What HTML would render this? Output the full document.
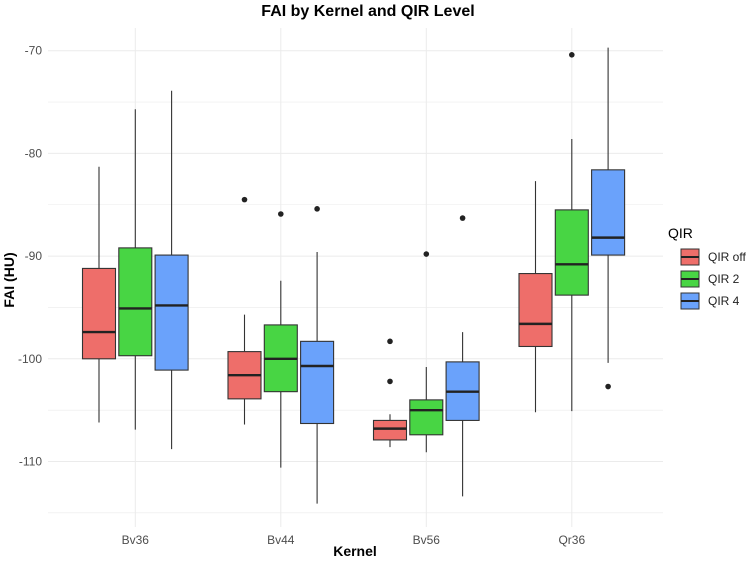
<!DOCTYPE html>
<html><head><meta charset="utf-8"><style>
body{margin:0;background:#fff;font-family:"Liberation Sans",Arial,sans-serif}
svg text{font-family:"Liberation Sans",Arial,sans-serif}
</style></head><body>
<svg id="chart" width="750" height="561" xmlns="http://www.w3.org/2000/svg">
<text x="368" y="16" text-anchor="middle" font-size="16" font-weight="bold">FAI by Kernel and QIR Level</text>
<g id="grid"></g><g id="boxes"></g><g id="axes"></g>
<text transform="translate(14,280) rotate(-90)" text-anchor="middle" font-size="14" font-weight="bold">FAI (HU)</text>
<text x="355" y="556" text-anchor="middle" font-size="14" font-weight="bold">Kernel</text>
<g id="legend">
<text x="668" y="238" font-size="14">QIR</text>
</g>
</svg>
<script>
const categories=["Bv36","Bv44","Bv56","Qr36"];
const groups=["QIR off","QIR 2","QIR 4"];
const colors=["#ee6e6a","#48d544","#6aa2fb"];
// [low, q1, median, q3, high] per category per group
const statsOff=[[-106.2,-100.0,-97.4,-91.2,-81.3],[-106.4,-103.9,-101.6,-99.3,-95.7],[-108.6,-107.9,-106.8,-106.0,-105.4],[-105.2,-98.8,-96.6,-91.7,-82.7]];
const stats2=[[-106.9,-99.7,-95.1,-89.2,-75.7],[-110.6,-103.2,-100.0,-96.7,-92.4],[-109.1,-107.4,-105.0,-104.0,-100.8],[-105.1,-93.8,-90.8,-85.5,-78.6]];
const stats4=[[-108.8,-101.1,-94.8,-89.9,-73.9],[-114.1,-106.3,-100.7,-98.3,-89.6],[-113.4,-106.0,-103.2,-100.3,-97.4],[-100.4,-89.9,-88.2,-81.6,-69.7]];
const outOff=[[],[-84.5],[-98.3,-102.2],[]];
const out2=[[],[-85.9],[-89.8],[-70.4]];
const out4=[[],[-85.4],[-86.3],[-102.7]];
const yTicks=[-70,-80,-90,-100,-110];
const NS="http://www.w3.org/2000/svg";
const y=v=>50.7+(-70-v)*10.27;
const x=i=>135.3+i*145.5;
function mk(t,a,p){const e=document.createElementNS(NS,t);for(const k in a)e.setAttribute(k,a[k]);p.appendChild(e);return e;}
const grid=document.getElementById('grid'),boxes=document.getElementById('boxes'),axes=document.getElementById('axes');
for(let v=-70;v>=-115;v-=5){const l=mk('line',{x1:48,x2:663,y1:y(v),y2:y(v),stroke:'#ebebeb','stroke-width':v%10===0?1:0.6},grid);

}
categories.forEach((c,i)=>{const l=mk('line',{x1:x(i),x2:x(i),y1:28,y2:527,stroke:'#ebebeb'},grid);


const t=mk('text',{x:x(i),y:544,'text-anchor':'middle','font-size':12,fill:'#4d4d4d'},axes);t.textContent=c;

});
yTicks.forEach(v=>{const t=mk('text',{x:42,y:y(v)+4,'text-anchor':'end','font-size':12,fill:'#4d4d4d'},axes);t.textContent=v;

});
const allStats=[statsOff,stats2,stats4],allOut=[outOff,out2,out4];
const w=33,off=[-36.3,0,36.3];
categories.forEach((c,i)=>{allStats.forEach((S,g)=>{const s=S[i],cx=x(i)+off[g];
const gr=mk('g',{},boxes);


mk('line',{x1:cx,x2:cx,y1:y(s[0]),y2:y(s[4]),stroke:'#333','stroke-width':1.1},gr);
mk('rect',{x:cx-w/2,y:y(s[3]),width:w,height:y(s[1])-y(s[3]),fill:colors[g],stroke:'#333','stroke-width':1.1},gr);
mk('line',{x1:cx-w/2,x2:cx+w/2,y1:y(s[2]),y2:y(s[2]),stroke:'#222','stroke-width':2.4},gr);
allOut[g][i].forEach(o=>{const d=mk('circle',{cx:cx,cy:y(o),r:2.8,fill:'#222'},gr);

});});});
const lg=document.getElementById('legend');
groups.forEach((n,g)=>{const yy=248+g*22;const e=mk('g',{},lg);


mk('rect',{x:681,y:yy+1,width:18,height:16,fill:colors[g],stroke:'#333','stroke-width':1},e);
mk('line',{x1:681,x2:699,y1:yy+9,y2:yy+9,stroke:'#222','stroke-width':2},e);
const t=mk('text',{x:708,y:yy+13,'font-size':12,fill:'#222'},e);t.textContent=n;});
</script>
</body></html>
